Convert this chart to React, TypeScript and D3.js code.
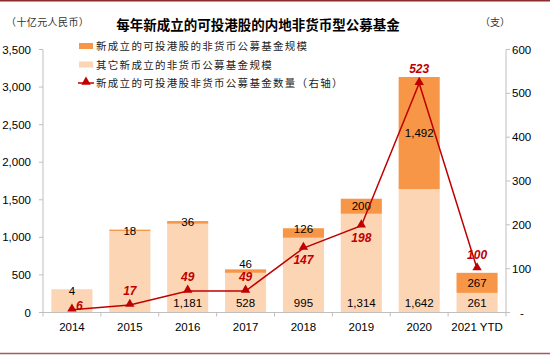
import React from "react";
import * as d3 from "d3";

const categories = ["2014", "2015", "2016", "2017", "2018", "2019", "2020", "2021 YTD"];
const otherScale = [300, 1085, 1181, 528, 995, 1314, 1642, 261];
const hkScale = [4, 18, 36, 46, 126, 200, 1492, 267];
const fundCount = [6, 17, 49, 49, 147, 198, 523, 100];
const showOtherLabel = [false, false, true, true, true, true, true, true];
const countLabelPos = ["right", "above", "above", "above", "below", "below", "above", "above"];
const leftTicks = [0, 500, 1000, 1500, 2000, 2500, 3000, 3500];
const rightTicks = [0, 100, 200, 300, 400, 500, 600];

const title = "每年新成立的可投港股的内地非货币型公募基金";
const leftUnit = "（十亿元人民币）";
const rightUnit = "（支）";
const legendItems = [
  "新成立的可投港股的非货币公募基金规模",
  "其它新成立的非货币公募基金规模",
  "新成立的可投港股非货币公募基金数量（右轴）",
];

const W = 550;
const H = 356;
const X0 = 43;
const X1 = 506;
const Y0 = 312.5;
const Y1 = 49.5;

const ORANGE = "#F79646";
const PEACH = "#FCD5B5";
const RED = "#C00000";
const AXIS = "#BFBFBF";
const NUM_FONT = "'Liberation Sans', Arial, sans-serif";
const CJK_FONT = "'Noto Sans CJK SC', sans-serif";

export default function App() {
  const x = d3.scaleBand<string>().domain(categories).range([X0, X1]).paddingInner(0.29).paddingOuter(0.145);
  const yL = d3.scaleLinear().domain([0, 3500]).range([Y0, Y1]);
  const yR = d3.scaleLinear().domain([0, 600]).range([Y0, Y1]);
  const step = x.step();
  const bw = x.bandwidth();
  const cx = (c: string) => (x(c) as number) + bw / 2;

  const line = d3
    .line<number>()
    .x((_, i) => cx(categories[i]))
    .y((d) => yR(d));

  const tri = d3.symbol().type(d3.symbolTriangle).size(38);

  return (
    <svg width={W} height={H} style={{ position: "absolute", left: 0, top: 0, background: "#fff" }}>
      <rect x={0} y={0} width={W} height={H} fill="#fff" />
      <line x1={0} x2={W} y1={0.75} y2={0.75} stroke="#8E2C2C" strokeWidth={1.5} />
      <line x1={0} x2={W} y1={353.5} y2={353.5} stroke="#A65A5A" strokeWidth={1.5} />

      <text x={258} y={30} textAnchor="middle" fontFamily={CJK_FONT} fontWeight={700} fontSize={13.5} fill="#000">
        {title}
      </text>
      <text x={6} y={26} fontFamily={CJK_FONT} fontSize={10} letterSpacing={0.4} fill="#333">
        {leftUnit}
      </text>
      <text x={480} y={26} fontFamily={CJK_FONT} fontSize={10} fill="#333">
        {rightUnit}
      </text>

      {/* bars */}
      {categories.map((c, i) => {
        const yo = yL(otherScale[i]);
        const yt = yL(otherScale[i] + hkScale[i]);
        return (
          <g key={c}>
            <rect x={x(c)} y={yo} width={bw} height={Y0 - yo} fill={PEACH} />
            <rect x={x(c)} y={yt} width={bw} height={yo - yt} fill={ORANGE} />
          </g>
        );
      })}

      {/* axes */}
      <line x1={X0} x2={X0} y1={Y1} y2={Y0} stroke={AXIS} strokeWidth={1} />
      <line x1={X1} x2={X1} y1={Y1} y2={Y0} stroke={AXIS} strokeWidth={1} />
      <line x1={X0} x2={X1} y1={Y0} y2={Y0} stroke={AXIS} strokeWidth={1} />
      {leftTicks.map((t) => (
        <g key={"l" + t}>
          <line x1={X0 - 4} x2={X0} y1={yL(t)} y2={yL(t)} stroke={AXIS} />
          <text x={31} y={yL(t) + 4} textAnchor="end" fontFamily={NUM_FONT} fontSize={11.5} fill="#000">
            {d3.format(",")(t)}
          </text>
        </g>
      ))}
      {rightTicks.map((t) => (
        <g key={"r" + t}>
          <line x1={X1} x2={X1 + 4} y1={yR(t)} y2={yR(t)} stroke={AXIS} />
          <text x={t === 0 ? 520 : 512} y={yR(t) + 4} textAnchor="start" fontFamily={NUM_FONT} fontSize={11.5} fill="#000">
            {t === 0 ? "-" : d3.format(",")(t)}
          </text>
        </g>
      ))}
      {d3.range(categories.length + 1).map((i) => (
        <line key={"xt" + i} x1={X0 + i * step} x2={X0 + i * step} y1={Y0} y2={Y0 + 4} stroke={AXIS} />
      ))}
      {categories.map((c) => (
        <text key={"xl" + c} x={cx(c)} y={331} textAnchor="middle" fontFamily={NUM_FONT} fontSize={11.5} fill="#000">
          {c}
        </text>
      ))}

      {/* bar labels */}
      {categories.map((c, i) => {
        const yo = yL(otherScale[i]);
        const yt = yL(otherScale[i] + hkScale[i]);
        const segH = yo - yt;
        const ly = segH < 14 ? yt - (i === 3 ? 5 : -1) : (yo + yt) / 2;
        return (
          <g key={"bl" + c}>
            <text x={cx(c)} y={ly + 4} textAnchor="middle" fontFamily={NUM_FONT} fontSize={11.5} fill="#000">
              {d3.format(",")(hkScale[i])}
            </text>
            {showOtherLabel[i] && (
              <text x={cx(c)} y={306.5} textAnchor="middle" fontFamily={NUM_FONT} fontSize={11.5} fill="#000">
                {d3.format(",")(otherScale[i])}
              </text>
            )}
          </g>
        );
      })}

      {/* line */}
      <path d={line(fundCount) || ""} fill="none" stroke={RED} strokeWidth={1.5} />
      {fundCount.map((v, i) => (
        <path key={"m" + i} d={tri() || ""} transform={`translate(${cx(categories[i])},${yR(v) - 1})`} fill={RED} />
      ))}
      {fundCount.map((v, i) => {
        const px = cx(categories[i]);
        const py = yR(v);
        const pos = countLabelPos[i];
        const lx = pos === "right" ? px + 4 : px;
        const ly = pos === "right" ? py - 4 : pos === "above" ? py - 14 : py + 12;
        return (
          <text
            key={"cl" + i}
            x={lx}
            y={ly + 4}
            textAnchor={pos === "right" ? "start" : "middle"}
            fontFamily={NUM_FONT}
            fontSize={12}
            fontWeight={700}
            fontStyle="italic"
            fill={RED}
          >
            {v}
          </text>
        );
      })}

      {/* legend */}
      <rect x={79} y={43} width={14} height={6} fill={ORANGE} />
      <text x={96} y={50} fontFamily={CJK_FONT} fontSize={10.5} letterSpacing={1.3} fill="#222">
        {legendItems[0]}
      </text>
      <rect x={79} y={61.5} width={14} height={6} fill={PEACH} />
      <text x={96} y={68.5} fontFamily={CJK_FONT} fontSize={10.5} letterSpacing={1.3} fill="#222">
        {legendItems[1]}
      </text>
      <line x1={78} x2={94} y1={83} y2={83} stroke={RED} strokeWidth={1.5} />
      <path d={tri() || ""} transform="translate(86,82)" fill={RED} />
      <text x={96} y={87} fontFamily={CJK_FONT} fontSize={10.5} letterSpacing={1.3} fill="#222">
        {legendItems[2]}
      </text>
    </svg>
  );
}
